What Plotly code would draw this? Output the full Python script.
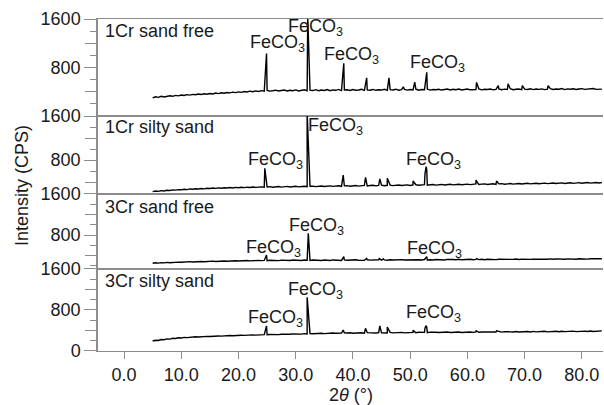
import numpy as np
import plotly.graph_objects as go

# ---------------- data ----------------
# common 2-theta sampling grid of the baselines (5.0 ... 83.5 deg, 0.5 deg step)
two_theta_grid = [round(5 + 0.5 * i, 1) for i in range(158)]

panel_names = ["1Cr sand free", "1Cr silty sand", "3Cr sand free", "3Cr silty sand"]

base_1cr_free = [
    300, 318, 308, 326, 315, 322, 334, 325, 340, 332,
    346, 338, 352, 344, 356, 350, 362, 354, 366, 360,
    372, 364, 378, 370, 384, 376, 388, 382, 394, 386,
    398, 390, 404, 396, 410, 400, 414, 404, 418, 408,
    422, 410, 416, 426, 412, 420, 428, 414, 424, 418,
    430, 414, 422, 432, 416, 426, 420, 434, 418, 428,
    422, 436, 418, 430, 424, 438, 420, 428, 434, 422,
    436, 424, 430, 440, 422, 432, 426, 438, 424, 434,
    428, 440, 424, 436, 430, 442, 426, 434, 440, 428,
    438, 430, 442, 426, 436, 432, 444, 428, 438, 434,
    442, 428, 436, 446, 430, 440, 434, 444, 430, 438,
    446, 432, 440, 436, 448, 432, 442, 438, 446, 432,
    440, 448, 434, 444, 438, 450, 434, 442, 446, 436,
    444, 438, 450, 436, 446, 440, 448, 436, 444, 450,
    438, 446, 442, 452, 436, 448, 442, 450, 438, 446,
    452, 440, 446, 444, 454, 440, 448, 444,
]
base_1cr_silty = [
    224, 236, 230, 244, 238, 250, 246, 256, 252, 262,
    258, 268, 262, 274, 268, 278, 272, 282, 276, 286,
    282, 290, 284, 294, 288, 296, 290, 300, 292, 302,
    296, 304, 298, 306, 300, 310, 302, 308, 312, 304,
    310, 316, 306, 314, 318, 308, 316, 320, 310, 318,
    322, 312, 320, 324, 314, 322, 326, 316, 324, 328,
    318, 326, 330, 320, 328, 332, 322, 330, 334, 324,
    332, 336, 326, 334, 338, 328, 336, 340, 330, 338,
    342, 332, 340, 344, 334, 342, 346, 336, 344, 348,
    338, 346, 350, 340, 348, 352, 342, 350, 354, 344,
    352, 356, 346, 354, 358, 348, 356, 360, 350, 358,
    362, 352, 360, 364, 354, 362, 366, 356, 364, 368,
    358, 366, 370, 360, 368, 372, 362, 370, 374, 364,
    372, 376, 366, 374, 378, 368, 376, 380, 370, 378,
    382, 372, 380, 384, 374, 382, 386, 376, 384, 388,
    378, 386, 390, 380, 388, 392, 382, 390,
]
base_3cr_free = [
    248, 258, 252, 262, 256, 266, 260, 268, 264, 272,
    268, 276, 270, 280, 274, 282, 276, 284, 278, 286,
    282, 290, 284, 292, 286, 294, 288, 296, 290, 298,
    292, 300, 294, 302, 296, 304, 298, 306, 300, 304,
    298, 308, 302, 306, 300, 310, 304, 308, 302, 312,
    306, 310, 304, 312, 308, 302, 312, 306, 310, 304,
    312, 308, 302, 314, 306, 310, 304, 314, 308, 312,
    306, 316, 308, 312, 306, 316, 310, 314, 308, 318,
    310, 314, 308, 318, 312, 316, 310, 320, 312, 316,
    310, 320, 314, 318, 312, 322, 314, 318, 312, 322,
    316, 320, 314, 324, 316, 322, 318, 326, 316, 322,
    320, 326, 318, 324, 320, 328, 318, 326, 322, 328,
    320, 326, 324, 330, 322, 328, 324, 332, 322, 330,
    326, 332, 324, 330, 328, 334, 324, 332, 328, 334,
    326, 334, 330, 336, 328, 334, 330, 338, 328, 336,
    332, 338, 330, 336, 334, 340, 332, 338,
]
base_3cr_silty = [
    195, 210, 206, 224, 220, 236, 232, 248, 244, 258,
    254, 266, 262, 272, 268, 278, 274, 282, 278, 286,
    282, 290, 286, 294, 290, 298, 294, 302, 298, 304,
    300, 308, 304, 312, 306, 314, 310, 318, 312, 320,
    316, 322, 318, 326, 320, 328, 324, 330, 326, 334,
    328, 336, 330, 338, 334, 340, 336, 344, 338, 346,
    340, 348, 344, 350, 346, 352, 348, 354, 350, 356,
    346, 354, 350, 356, 348, 358, 352, 356, 350, 360,
    354, 358, 352, 362, 354, 360, 356, 364, 354, 362,
    358, 364, 356, 366, 360, 364, 358, 368, 360, 366,
    362, 368, 360, 370, 362, 368, 364, 372, 362, 370,
    366, 372, 364, 374, 366, 370, 368, 376, 366, 372,
    370, 376, 368, 378, 370, 374, 372, 380, 370, 376,
    374, 380, 372, 382, 374, 378, 376, 384, 374, 380,
    378, 384, 376, 386, 378, 382, 380, 388, 378, 384,
    382, 388, 380, 390, 382, 386, 384, 392,
]

# diffraction peaks (2-theta, intensity)
peak_x_1cr_free = [24.9, 32.1, 38.4, 42.4, 46.3, 48.8, 50.8, 52.9, 61.6, 65.4, 67.1, 69.6, 74.1]
peak_y_1cr_free = [1030, 1650, 870, 630, 630, 480, 560, 720, 555, 500, 530, 500, 500]
peak_x_1cr_silty = [24.6, 32.0, 38.3, 42.2, 44.7, 46.0, 50.5, 52.6, 52.8, 52.9, 61.5, 65.1]
peak_y_1cr_silty = [650, 1650, 527, 485, 455, 467, 418, 560, 680, 620, 436, 418]
peak_x_3cr_free = [24.9, 32.2, 38.4, 42.4, 44.6, 45.3, 52.9, 61.6]
peak_y_3cr_free = [410, 833, 377, 345, 340, 335, 377, 340]
peak_x_3cr_silty = [24.9, 32.0, 38.3, 42.2, 44.7, 46.0, 50.5, 52.6, 52.8, 52.9, 61.5, 65.1]
peak_y_3cr_silty = [488, 1047, 410, 442, 488, 466, 403, 450, 494, 470, 400, 395]

# FeCO3 label positions (2-theta, intensity) per panel
label_x_1cr_free = [26.9, 33.5, 39.8, 54.8]
label_y_1cr_free = [1200, 1467, 1000, 867]
label_x_1cr_silty = [26.4, 36.9, 54.0]
label_y_1cr_silty = [800, 1405, 800]
label_x_3cr_free = [26.2, 33.7, 54.3]
label_y_3cr_free = [546, 962, 527]
label_x_3cr_silty = [26.4, 33.5, 54.0]
label_y_3cr_silty = [638, 1190, 741]

x_tick_vals = [0, 10, 20, 30, 40, 50, 60, 70, 80]

# ---------------- figure ----------------
def build(base, px, py):
    xs = list(two_theta_grid) + list(px)
    ys = list(base) + list(py)
    order = np.argsort(xs, kind="stable")
    return [xs[i] for i in order], [ys[i] for i in order]

panels = [
    dict(base=base_1cr_free, px=peak_x_1cr_free, py=peak_y_1cr_free,
         lx=label_x_1cr_free, ly=label_y_1cr_free, rng=[0, 1600],
         dom=[0.7078, 1.0], name_y=1400, labeled=[800, 1600]),
    dict(base=base_1cr_silty, px=peak_x_1cr_silty, py=peak_y_1cr_silty,
         lx=label_x_1cr_silty, ly=label_y_1cr_silty, rng=[182, 1600],
         dom=[0.4729, 0.7078], name_y=1400, labeled=[800, 1600]),
    dict(base=base_3cr_free, px=peak_x_3cr_free, py=peak_y_3cr_free,
         lx=label_x_3cr_free, ly=label_y_3cr_free, rng=[137, 1600],
         dom=[0.2470, 0.4729], name_y=1346, labeled=[800, 1600]),
    dict(base=base_3cr_silty, px=peak_x_3cr_silty, py=peak_y_3cr_silty,
         lx=label_x_3cr_silty, ly=label_y_3cr_silty, rng=[0, 1600],
         dom=[0.0, 0.2470], name_y=1366, labeled=[0, 800, 1600]),
]

FONT = "Liberation Sans, Arial, sans-serif"
TXT = "#1a1a1a"
LINE = "#8c8c8c"
FS = 18

fig = go.Figure()
layout = dict(
    width=604, height=405,
    margin=dict(l=98, r=1, t=19, b=54),
    paper_bgcolor="white", plot_bgcolor="white",
    showlegend=False,
    font=dict(family=FONT, size=FS, color=TXT),
)
annotations = []

for i, p in enumerate(panels):
    k = i + 1
    xs, ys = build(p["base"], p["px"], p["py"])
    fig.add_trace(go.Scatter(
        x=xs, y=ys, mode="lines",
        line=dict(color="black", width=1.4),
        xaxis=f"x{k}", yaxis=f"y{k}", hoverinfo="skip",
    ))
    last = (k == 4)
    layout[f"xaxis{k}"] = dict(
        domain=[0, 1], anchor=f"y{k}", range=[-4.55, 83.7],
        showline=True, linecolor=LINE, linewidth=1.3, mirror=True,
        showgrid=False, zeroline=False,
        ticks="outside" if last else "", ticklen=7, tickwidth=1.2, tickcolor=LINE,
        tickvals=x_tick_vals, tickformat=".1f",
        showticklabels=last,
        tickfont=dict(family=FONT, size=FS, color=TXT),
    )
    if not last:
        layout[f"xaxis{k}"]["matches"] = "x4"
    layout[f"yaxis{k}"] = dict(
        domain=p["dom"], anchor=f"x{k}", range=p["rng"],
        showline=True, linecolor=LINE, linewidth=1.5, mirror=False,
        showgrid=False, zeroline=False,
        ticks="outside", ticklen=12, tickwidth=1.2, tickcolor=LINE,
        tickvals=p["labeled"], ticktext=[str(v) for v in p["labeled"]],
        tickfont=dict(family=FONT, size=FS, color=TXT),
        minor=dict(tickvals=[200, 600, 1000, 1400], ticks="outside",
                   ticklen=6, tickwidth=1.2, tickcolor=LINE),
    )
    # unlabeled long ticks at 400 and 1200 on an overlaying axis
    layout[f"yaxis{k + 4}"] = dict(
        domain=p["dom"], anchor=f"x{k}", overlaying=f"y{k}", side="left",
        range=p["rng"], showline=False, showgrid=False, zeroline=False,
        ticks="outside", ticklen=12, tickwidth=1.2, tickcolor=LINE,
        tickvals=[400, 1200], showticklabels=False,
    )
    fig.add_trace(go.Scatter(x=[None], y=[None], xaxis=f"x{k}", yaxis=f"y{k + 4}",
                             mode="lines", hoverinfo="skip"))
    # panel name
    annotations.append(dict(
        x=-3.67, y=p["name_y"], xref=f"x{k}", yref=f"y{k}",
        text=panel_names[i], showarrow=False, xanchor="left", yanchor="middle",
        font=dict(family=FONT, size=FS, color=TXT),
    ))
    for lx, ly in zip(p["lx"], p["ly"]):
        annotations.append(dict(
            x=lx, y=ly, xref=f"x{k}", yref=f"y{k}",
            text="FeCO<sub>3</sub>", showarrow=False,
            xanchor="center", yanchor="middle",
            font=dict(family=FONT, size=FS, color=TXT),
        ))

annotations.append(dict(
    x=-0.1505, y=0.5, xref="paper", yref="paper", text="Intensity (CPS)",
    textangle=-90, showarrow=False, xanchor="center", yanchor="middle",
    font=dict(family=FONT, size=FS, color=TXT),
))
annotations.append(dict(
    x=0.5, y=-0.1325, xref="paper", yref="paper", text="2<i>θ</i> (°)",
    showarrow=False, xanchor="center", yanchor="middle",
    font=dict(family=FONT, size=FS, color=TXT),
))
layout["annotations"] = annotations
fig.update_layout(**layout)

fig.write_html(
    "out.html",
    config={"displayModeBar": False},
    post_script="document.body.style.margin='0';document.body.style.overflow='hidden';",
)
